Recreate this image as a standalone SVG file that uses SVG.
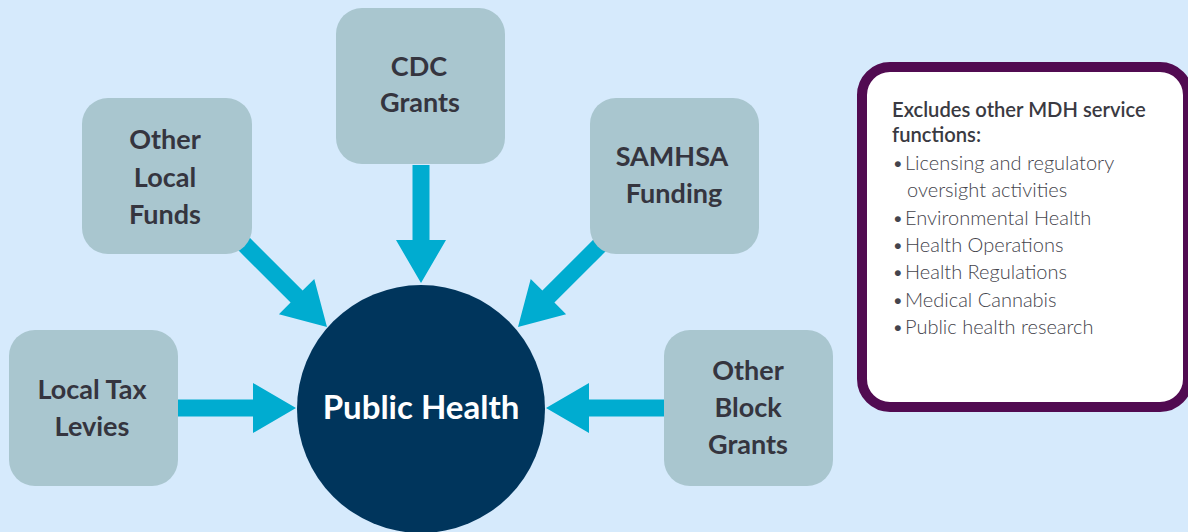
<svg xmlns="http://www.w3.org/2000/svg" width="1188" height="532" viewBox="0 0 1188 532">
<style>
.bg{fill:#d6eafc}
.box{fill:#a9c6cf}
.bt{font-family:"Lato","Liberation Sans",sans-serif;font-weight:700;font-size:27px;fill:#35353f;text-anchor:middle}
.arrow{fill:#00acd0}
.ph{font-family:"Lato","Liberation Sans",sans-serif;font-weight:700;font-size:33px;fill:#ffffff;text-anchor:middle}
.h{font-family:"Lato","Liberation Sans",sans-serif;font-weight:600;font-size:20.2px;fill:#3a3a42}
.li{font-family:"Lato","Liberation Sans",sans-serif;font-weight:300;font-size:20px;fill:#44444c}
</style>
<defs>
<polygon id="arr" class="arrow" points="-118,-8.5 -43,-8.5 -43,-25 0,0 -43,25 -43,8.5 -118,8.5"/>
</defs>
<rect class="bg" x="0" y="0" width="1188" height="532"/>
<g id="connectors">
<use href="#arr" transform="translate(296,408)"/>
<use href="#arr" transform="translate(421,283) rotate(90)"/>
<use href="#arr" transform="translate(546,408) rotate(180)"/>
<use href="#arr" transform="translate(327,327) rotate(45)"/>
<use href="#arr" transform="translate(518,327) rotate(135)"/>
</g>
<g id="public-health">
<circle cx="421" cy="409" r="124" fill="#00355c"/>
<text class="ph" x="421" y="419">Public Health</text>
</g>
<g id="local-tax-levies">
<rect class="box" x="9" y="330" width="169" height="156" rx="26"/>
<text class="bt" x="92" y="399">Local Tax</text>
<text class="bt" x="92" y="436">Levies</text>
</g>
<g id="other-local-funds">
<rect class="box" x="82" y="98" width="170" height="156" rx="26"/>
<text class="bt" x="165" y="149">Other</text>
<text class="bt" x="165" y="187">Local</text>
<text class="bt" x="165" y="224">Funds</text>
</g>
<g id="cdc-grants">
<rect class="box" x="336" y="8" width="169" height="156" rx="26"/>
<text class="bt" x="419" y="76">CDC</text>
<text class="bt" x="420" y="112">Grants</text>
</g>
<g id="samhsa-funding">
<rect class="box" x="590" y="98" width="169" height="156" rx="26"/>
<text class="bt" x="672" y="166">SAMHSA</text>
<text class="bt" x="674" y="203">Funding</text>
</g>
<g id="other-block-grants">
<rect class="box" x="664" y="330" width="169" height="156" rx="26"/>
<text class="bt" x="748" y="380">Other</text>
<text class="bt" x="748" y="417">Block</text>
<text class="bt" x="748" y="454">Grants</text>
</g>
<g id="exclusions">
<rect x="862" y="67" width="326" height="340" rx="28" fill="#ffffff" stroke="#510b51" stroke-width="10"/>
<text class="h" x="892" y="117">Excludes other MDH service</text>
<text class="h" x="892" y="142">functions:</text>
<text class="li" y="170"><tspan x="892">•</tspan><tspan x="905">Licensing and regulatory</tspan></text>
<text class="li" x="907" y="197">oversight activities</text>
<text class="li" y="225"><tspan x="892">•</tspan><tspan x="905">Environmental Health</tspan></text>
<text class="li" y="252"><tspan x="892">•</tspan><tspan x="905">Health Operations</tspan></text>
<text class="li" y="279"><tspan x="892">•</tspan><tspan x="905">Health Regulations</tspan></text>
<text class="li" y="307"><tspan x="892">•</tspan><tspan x="905">Medical Cannabis</tspan></text>
<text class="li" y="334"><tspan x="892">•</tspan><tspan x="905">Public health research</tspan></text>
</g>
</svg>
